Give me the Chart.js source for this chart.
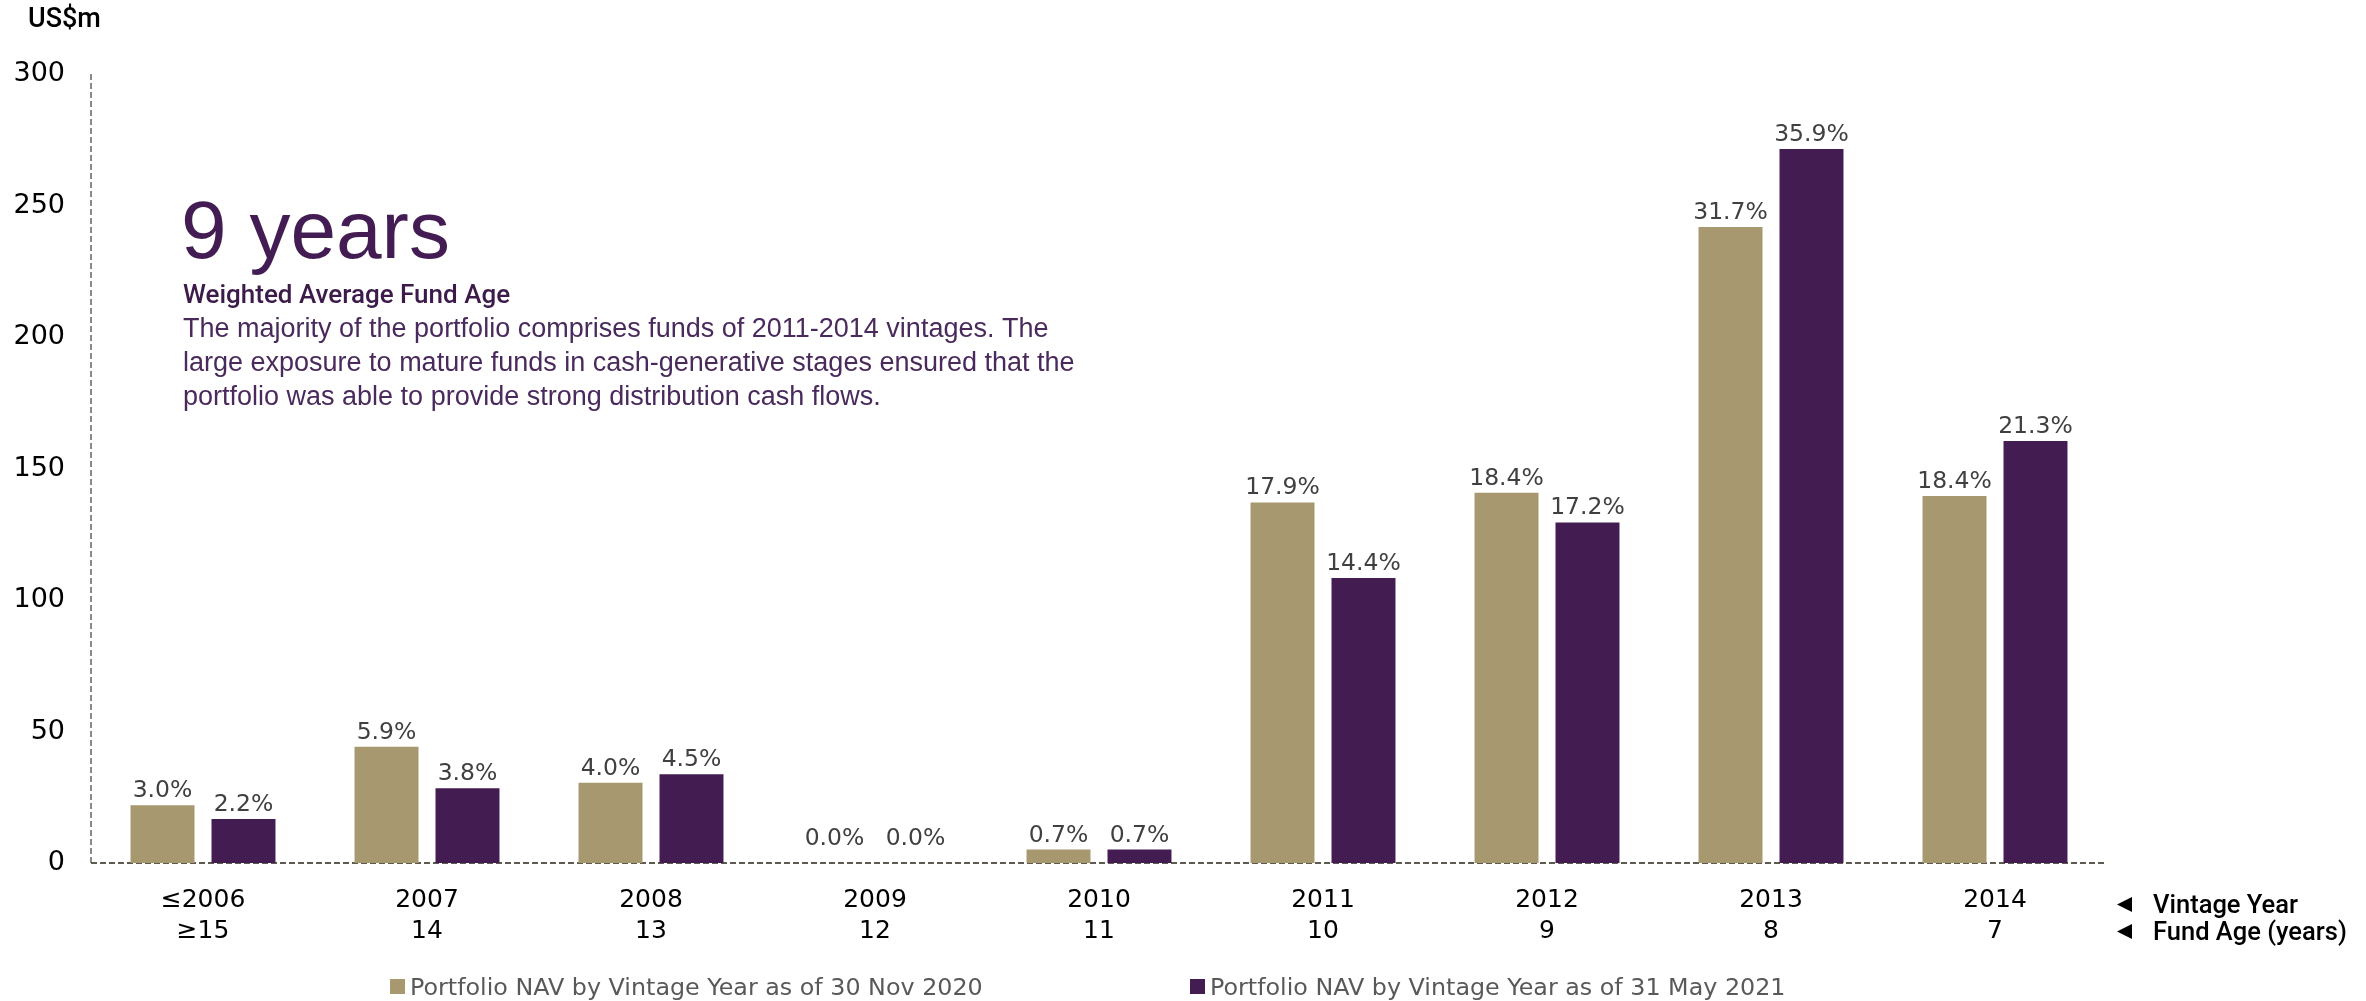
<!DOCTYPE html>
<html>
<head>
<meta charset="utf-8">
<script src="https://cdn.jsdelivr.net/npm/chart.js@4.4.0/dist/chart.umd.min.js"></script>
<style>
    body { margin: 0; background: #fff; }
    #wrap { width: 2366px; height: 1001px; position: relative; }
</style>
</head>
<body>
<div id="wrap"><canvas id="myChart" width="2366" height="1001"></canvas></div>
<script>
// data (US$m)
const vintageYears = ['\u22642006', '2007', '2008', '2009', '2010', '2011', '2012', '2013', '2014'];
const fundAges = ['\u226515', '14', '13', '12', '11', '10', '9', '8', '7'];
const navNov2020 = [22, 44.2, 30.5, 0, 5.1, 137.1, 140.8, 241.8, 139.5];
const navMay2021 = [16.7, 28.4, 33.7, 0, 5.1, 108.4, 129.5, 271.5, 160.5];
const pctNov2020 = ['3.0%', '5.9%', '4.0%', '0.0%', '0.7%', '17.9%', '18.4%', '31.7%', '18.4%'];
const pctMay2021 = ['2.2%', '3.8%', '4.5%', '0.0%', '0.7%', '14.4%', '17.2%', '35.9%', '21.3%'];
const yTicks = [0, 50, 100, 150, 200, 250, 300];
const seriesNames = ['Portfolio NAV by Vintage Year as of 30 Nov 2020', 'Portfolio NAV by Vintage Year as of 31 May 2021'];

const tan = '#a89870';
const purple = '#431c52';

const bodyLines = [
    'The majority of the portfolio comprises funds of 2011-2014 vintages. The',
    'large exposure to mature funds in cash-generative stages ensured that the',
    'portfolio was able to provide strong distribution cash flows.'
];

// dashed axis lines (drawn under the bars)
const dashedAxes = {
    id: 'dashedAxes',
    beforeDatasetsDraw(chart) {
        let ctx = chart.ctx;
        let a = chart.chartArea;
        ctx.save();
        ctx.lineWidth = 2;
        ctx.setLineDash([6, 3]);
        ctx.strokeStyle = '#8a8a8a';
        ctx.beginPath();
        ctx.moveTo(a.left, a.top);
        ctx.lineTo(a.left, a.bottom);
        ctx.stroke();
        ctx.strokeStyle = '#5f5a50';
        ctx.beginPath();
        ctx.moveTo(a.left, a.bottom);
        ctx.lineTo(a.right, a.bottom);
        ctx.stroke();
        ctx.restore();
    }
};

// labels, legend and side notes
const extras = {
    id: 'extras',
    afterDatasetsDraw(chart) {
        let ctx = chart.ctx;
        ctx.save();

        ctx.font = '23.5px "DejaVu Sans"';
        ctx.fillStyle = '#404040';
        ctx.textAlign = 'center';
        ctx.textBaseline = 'alphabetic';
        [pctNov2020, pctMay2021].forEach(function(labels, i) {
            chart.getDatasetMeta(i).data.forEach(function(bar, j) {
                let off = chart.data.datasets[i].data[j] === 0 ? 18 : 8;
                ctx.fillText(labels[j], bar.x, bar.y - off);
            });
        });

        ctx.textAlign = 'left';
        ctx.fillStyle = '#000';
        ctx.font = '500 27px Roboto';
        ctx.fillText('US$m', 28, 27);

        // side notes for the two label rows
        ctx.font = '500 25.5px Roboto';
        ctx.fillText('Vintage Year', 2153, 913);
        ctx.fillText('Fund Age (years)', 2153, 940);
        [904.5, 931.5].forEach(function(cy) {
            ctx.beginPath();
            ctx.moveTo(2117, cy);
            ctx.lineTo(2132, cy - 7.5);
            ctx.lineTo(2132, cy + 7.5);
            ctx.closePath();
            ctx.fill();
        });

        // legend
        ctx.font = '23.8px "DejaVu Sans"';
        let lx = [390, 1190];
        [tan, purple].forEach(function(c, i) {
            ctx.fillStyle = c;
            ctx.fillRect(lx[i], 979, 15, 15);
            ctx.fillStyle = '#595959';
            ctx.fillText(seriesNames[i], lx[i] + 20, 995);
        });

        // annotation
        ctx.fillStyle = '#421c52';
        ctx.font = '82px "Liberation Sans"';
        ctx.fillText('9 years', 181, 258);
        ctx.fillStyle = '#3c1a4a';
        ctx.font = '500 26px Roboto';
        ctx.fillText('Weighted Average Fund Age', 183, 303);
        ctx.fillStyle = '#4a2a5c';
        ctx.font = '27px "Liberation Sans"';
        bodyLines.forEach(function(t, i) {
            ctx.fillText(t, 183, 337 + i * 34);
        });

        ctx.restore();
    }
};

let ctx = document.getElementById('myChart').getContext('2d');

new Chart(ctx, {
    type: 'bar',
    data: {
        labels: vintageYears.map((v, i) => [v, fundAges[i]]),
        datasets: [{
            label: seriesNames[0],
            data: navNov2020,
            backgroundColor: tan,
            categoryPercentage: 0.723,
            barPercentage: 0.79
        }, {
            label: seriesNames[1],
            data: navMay2021,
            backgroundColor: purple,
            categoryPercentage: 0.723,
            barPercentage: 0.79
        }]
    },
    options: {
        responsive: false,
        animation: false,
        devicePixelRatio: 1,
        layout: { padding: { top: 74, right: 259, bottom: 0, left: 0 } },
        plugins: {
            legend: { display: false },
            tooltip: { enabled: false }
        },
        scales: {
            x: {
                grid: { display: false, drawTicks: false },
                border: { display: false },
                ticks: {
                    color: '#000',
                    font: { family: 'DejaVu Sans', size: 25, lineHeight: 1.24 },
                    padding: 22,
                    maxRotation: 0,
                    autoSkip: false
                },
                afterFit: function(scale) { scale.height = 138; }
            },
            y: {
                min: 0,
                max: 300,
                grid: { display: false, drawTicks: false },
                border: { display: false },
                ticks: {
                    color: '#000',
                    font: { family: 'DejaVu Sans', size: 27 },
                    padding: 26
                },
                afterBuildTicks: function(scale) {
                    scale.ticks = yTicks.map(v => ({ value: v }));
                },
                afterFit: function(scale) { scale.width = 91; }
            }
        }
    },
    plugins: [dashedAxes, extras]
});
</script>
</body>
</html>
